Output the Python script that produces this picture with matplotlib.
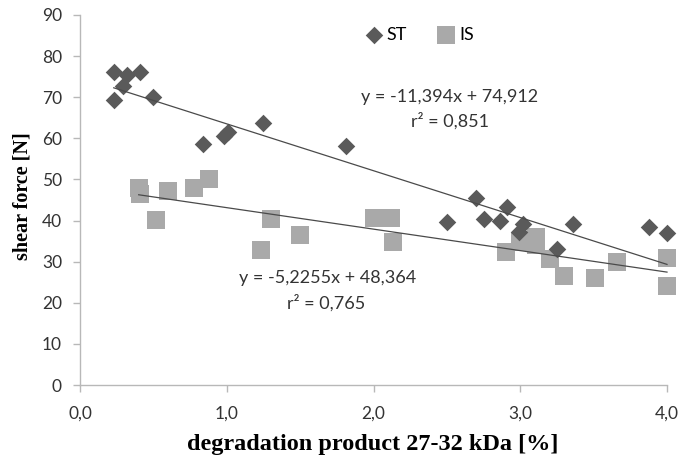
import matplotlib.pyplot as plt
import numpy as np

# ST (diamonds)
st_x = [0.23, 0.32, 0.41, 0.29, 0.23, 0.50, 0.84, 0.98, 1.01, 1.25, 1.81,
        2.70, 2.91, 2.50, 2.75, 2.86, 3.02, 2.99, 3.36, 3.25, 3.88, 4.00]
st_y = [76.2, 75.4, 76.1, 72.7, 69.3, 70.0, 58.6, 60.6, 61.6, 63.7, 58.1,
        45.4, 43.2, 39.7, 40.4, 40.0, 39.2, 37.3, 39.1, 33.2, 38.5, 37.0]

# IS (squares)
is_x = [0.40, 0.41, 0.60, 0.52, 0.78, 0.88, 1.30, 1.23, 1.50, 2.00, 2.12,
        2.13, 2.90, 3.00, 3.11, 3.11, 3.20, 3.30, 3.51, 3.66, 4.00, 4.00]
is_y = [47.8, 46.5, 47.3, 40.1, 47.8, 50.1, 40.3, 32.8, 36.5, 40.5, 40.5,
        34.9, 32.4, 34.9, 36.1, 34.1, 30.6, 26.5, 26.1, 29.8, 30.8, 24.1]

# trend line coefficients as printed on the chart
st_fit = (-11.394, 74.912)
is_fit = (-5.2255, 48.364)

x_ticks = [0, 1, 2, 3, 4]
x_labels = ["0,0", "1,0", "2,0", "3,0", "4,0"]
y_ticks = list(range(0, 100, 10))

dark = "#5a5a5a"
light = "#a9a9a9"
txt = "#333333"
sans = "Lato"
serif = "Liberation Serif"

W, H = 683, 458
fig = plt.figure(figsize=(W / 100, H / 100), dpi=100)
ax = fig.add_axes([80 / W, (H - 385) / H, 587 / W, 370 / H])

ax.scatter(is_x, is_y, marker="s", s=150, color=light, label="IS", zorder=2,
           linewidths=0, clip_on=False)
ax.scatter(st_x, st_y, marker="D", s=80, color=dark, label="ST", zorder=3,
           linewidths=0, clip_on=False)

for xs, (m, b) in ((st_x, st_fit), (is_x, is_fit)):
    xx = np.array([min(xs), max(xs)])
    ax.plot(xx, m * xx + b, color="#4a4a4a", lw=0.9, zorder=4, clip_on=False)

ax.text(2.52, 70.1, "y = -11,394x + 74,912", ha="center", va="center",
        fontsize=13, family=sans, color=txt)
ax.text(2.52, 64.3, "r² = 0,851", ha="center", va="center",
        fontsize=13, family=sans, color=txt)
ax.text(1.685, 26.0, "y = -5,2255x + 48,364", ha="center", va="center",
        fontsize=13, family=sans, color=txt)
ax.text(1.68, 19.9, "r² = 0,765", ha="center", va="center",
        fontsize=13, family=sans, color=txt)

ax.set_xlim(0, 4)
ax.set_ylim(0, 90)
ax.set_xticks(x_ticks)
ax.set_xticklabels(x_labels)
ax.set_yticks(y_ticks)
for lab in ax.get_xticklabels() + ax.get_yticklabels():
    lab.set_fontfamily(sans)
    lab.set_fontsize(12.5)
    lab.set_color(txt)

for s in ("top", "right"):
    ax.spines[s].set_visible(False)
for s in ("left", "bottom"):
    ax.spines[s].set_color("#b8b8b8")
    ax.spines[s].set_linewidth(1.0)
ax.tick_params(direction="out", length=5, width=1, color="#b8b8b8")
ax.tick_params(axis="x", pad=10)
ax.tick_params(axis="y", pad=8)

ax.set_xlabel("degradation product 27-32 kDa [%]", family=serif,
              fontweight="bold", fontsize=17.5)
ax.xaxis.set_label_coords(372.5 / W, (H - 434) / H, transform=fig.transFigure)
ax.set_ylabel("shear force [N]", family=serif, fontweight="bold", fontsize=14.5)
ax.yaxis.set_label_coords(33 / W, (H - 196) / H, transform=fig.transFigure)

handles, labels = ax.get_legend_handles_labels()
ax.legend(handles[::-1], labels[::-1], loc="center left",
          bbox_to_anchor=(364.5 / W, (H - 35) / H), bbox_transform=fig.transFigure,
          ncol=2, frameon=False, prop={"family": sans, "size": 13},
          borderpad=0, borderaxespad=0, handlelength=1.0,
          handletextpad=0.23, columnspacing=1.64, markerscale=1.0)

fig.savefig("out.png", dpi=100)
